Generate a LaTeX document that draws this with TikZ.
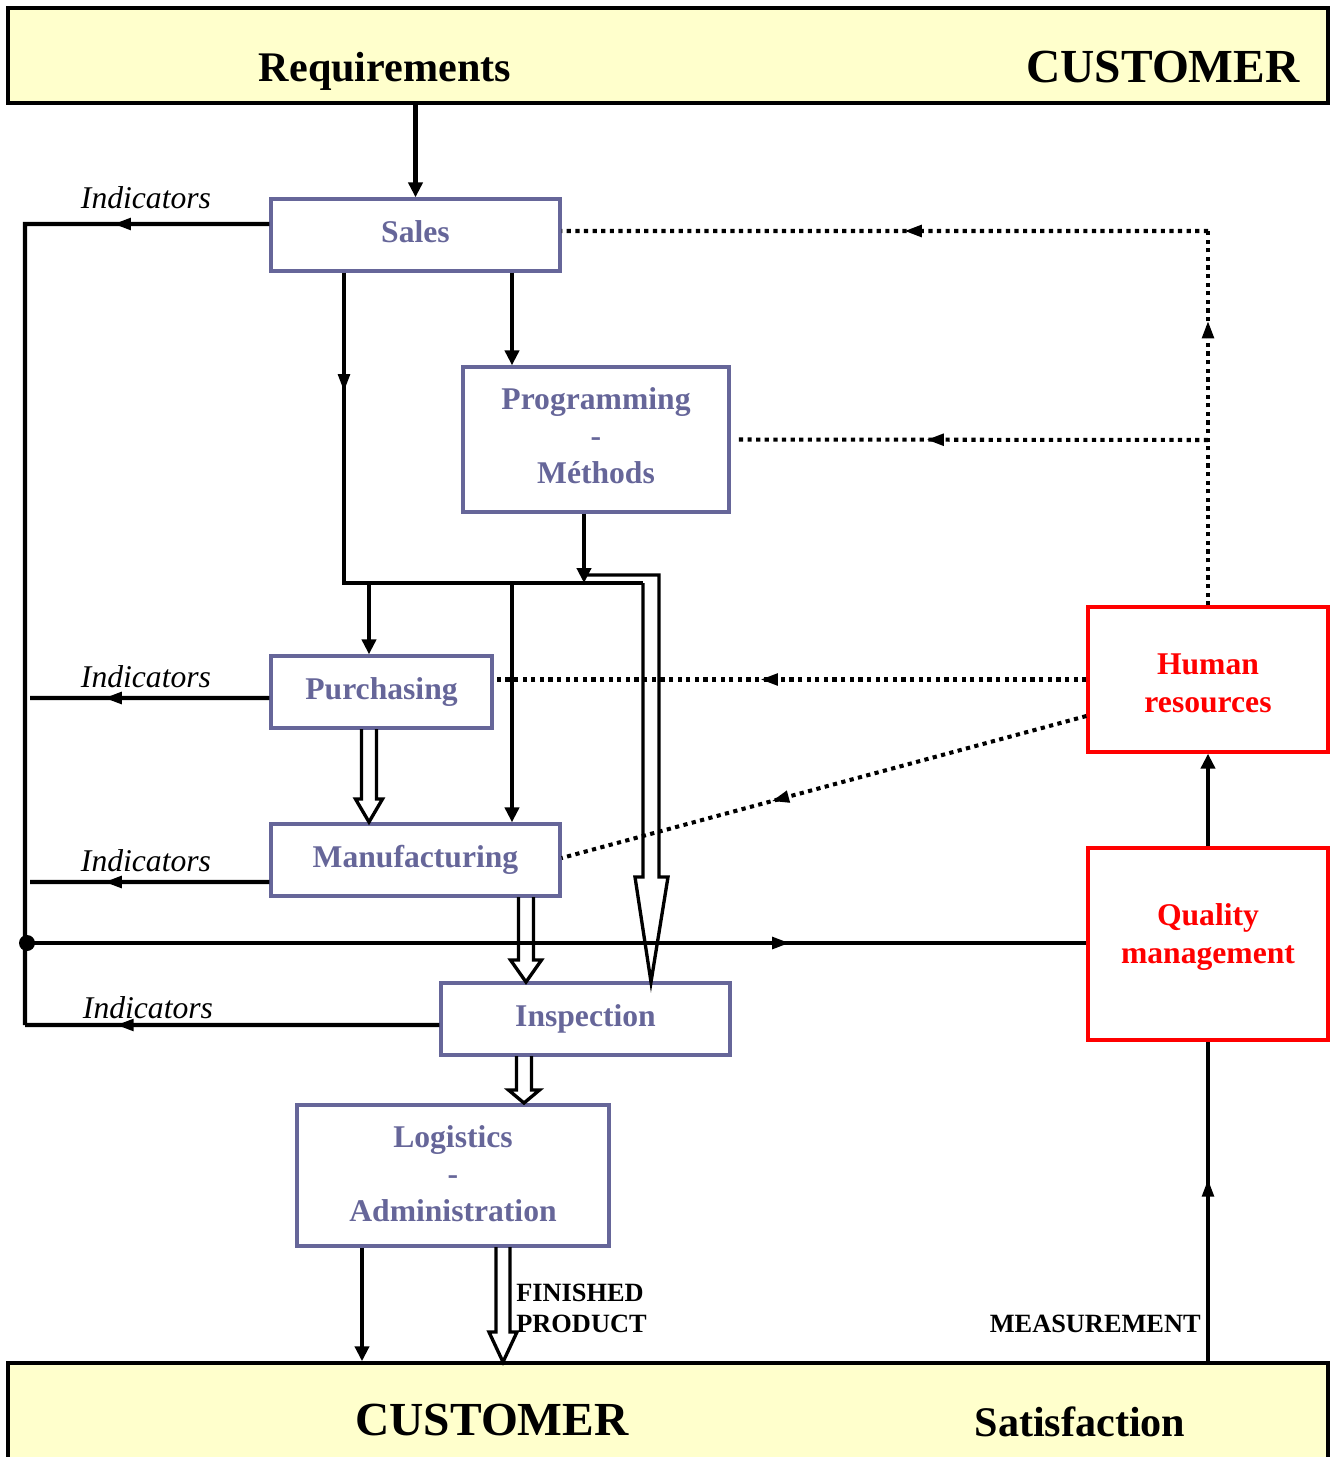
\documentclass[tikz,border=0pt]{standalone}
\usepackage{fontspec}
\setmainfont{Liberation Serif}
\usetikzlibrary{arrows.meta,decorations.markings,calc}
\definecolor{pv}{RGB}{102,102,153}
\definecolor{cream}{RGB}{255,255,204}
\definecolor{hrred}{RGB}{255,0,0}
\newcommand\hollowdown[6]{\draw[hollow] (#1-#2,#4) -- (#1-#2,#5) -- (#1-#3,#5) -- (#1,#6) -- (#1+#3,#5) -- (#1+#2,#5) -- (#1+#2,#4);}
\begin{document}
\begin{tikzpicture}[x=0.02cm,y=-0.02cm,
  box/.style={draw=pv, line width=1.9pt, text=pv, font=\fontsize{18}{21.2}\selectfont\bfseries, align=center, inner sep=0pt},
  redbox/.style={draw=hrred, line width=1.9pt, inner sep=0pt},
  redtext/.style={text=hrred, font=\fontsize{18}{21.5}\selectfont\bfseries, align=center, inner sep=0pt},
  band/.style={draw=black, line width=2pt, fill=cream, inner sep=0pt},
  conn/.style={line width=2.3pt},
  tip/.style={-{Triangle[length=8.5pt,width=8pt]}},
  midarrow/.style={postaction={decorate}, decoration={markings, mark=at position #1 with {\arrow{Triangle[length=10pt,width=6.5pt]}}}},
  dotline/.style={line width=2.3pt, dash pattern=on 2.4pt off 2.5pt},
  hollow/.style={line width=1.9pt, line join=miter},
  ind/.style={font=\fontsize{18}{21.5}\selectfont\itshape, inner sep=0pt},
  small/.style={font=\fontsize{15}{17.6}\selectfont\bfseries, align=left, inner sep=0pt}
]
\useasboundingbox (0,0) rectangle (1339,1457);

% bands
\node[band, minimum width=26.4cm, minimum height=1.9cm] (top) at (668,55.5) {};
\node[font=\fontsize{24}{28}\selectfont\bfseries] (req) at (385,71) {Requirements};
\node[font=\fontsize{27}{32}\selectfont\bfseries] (cust1) at (1163,67) {CUSTOMER};
\node[band, minimum width=26.4cm, minimum height=1.96cm] (bot) at (668,1412) {};
\node[font=\fontsize{27}{32}\selectfont\bfseries] (cust2) at (492,1420) {CUSTOMER};
\node[font=\fontsize{24}{28}\selectfont\bfseries] (satis) at (1080,1422) {Satisfaction};

% boxes
\node[box, minimum width=5.78cm, minimum height=1.44cm, text depth=3.4pt] (sales) at (415.5,235) {Sales};
\node[box, minimum width=5.32cm, minimum height=2.9cm, text depth=4.5pt] (prog) at (596,439.5) {Programming\\-\\Méthods};
\node[box, minimum width=4.42cm, minimum height=1.44cm] (purch) at (381.5,692) {Purchasing};
\node[box, minimum width=5.78cm, minimum height=1.44cm] (manuf) at (415.5,860) {Manufacturing};
\node[box, minimum width=5.78cm, minimum height=1.44cm] (insp) at (585.5,1019) {Inspection};
\node[box, minimum width=6.24cm, minimum height=2.82cm, text depth=2.3pt] (logi) at (453,1175.5) {Logistics\\-\\Administration};
\node[redbox, minimum width=4.8cm, minimum height=2.9cm] (hr) at (1208,679.5) {};
\node[redtext] (hrt) at (1208,683) {Human\\resources};
\node[redbox, minimum width=4.8cm, minimum height=3.84cm] (qm) at (1208,944) {};
\node[redtext] (qmt) at (1208,937) {Quality\\management};

% labels
\node[ind] (i1) at (146,198) {Indicators};
\node[ind] (i2) at (146,677) {Indicators};
\node[ind] (i3) at (146,861) {Indicators};
\node[ind] (i4) at (148,1008) {Indicators};
\node[small, anchor=west] (fp) at (516,1308) {FINISHED\\PRODUCT};
\node[small, anchor=east] (meas) at (1201,1324) {MEASUREMENT};

% coordinates
\coordinate (lt) at (25,224);
\coordinate (lb) at (25,1025);
\coordinate (dot) at (27,943);
\coordinate (pl) at (30,698);
\coordinate (ml) at (30,882);
\coordinate (j1) at (344,583);
\coordinate (j2) at (643,583);
\coordinate (pa) at (369,583);
\coordinate (ma) at (512,583);
\coordinate (pj) at (584,583);
\coordinate (lx) at (362,1246);
\coordinate (c1) at (1208,231);
\coordinate (c2) at (1208,440);

% top arrow
\draw[conn,tip] (top.south -| sales.north) -- (sales.north);

% indicator lines
\draw[conn, midarrow=3.12cm] ([yshift=0.22cm]sales.west) -- (lt) -- (lb);
\draw[conn, midarrow=0.69] ([yshift=-0.12cm]purch.west) -- (pl);
\draw[conn, midarrow=0.69] ([yshift=-0.44cm]manuf.west) -- (ml);
\draw[conn, midarrow=0.78] ([yshift=-0.12cm]insp.west) -- (lb);
\draw[conn, midarrow=0.72] (dot) -- (qm.west |- dot);
\fill (dot) circle (0.16cm);

% internal flow
\draw[conn, midarrow=2.38cm] (j1 |- sales.south) -- (j1) -- (j2);
\draw[conn,tip] (sales.south -| ma) -- (prog.north -| ma);
\draw[conn,tip] (prog.south -| pj) -- (pj);
\draw[conn,tip] (pa) -- (pa |- purch.north);
\draw[conn,tip] (ma) -- (ma |- manuf.north);

% hollow pipe from programming to inspection
\draw[hollow] (586,575) -- (659,575) -- (659,877) -- (668,877) -- (651,982) -- (635,877) -- (643,877) -- (643,583);

% hollow arrows
\hollowdown{369}{7.5}{13.5}{729}{799}{822}
\hollowdown{526}{7.5}{15.5}{897}{960}{982}
\hollowdown{524}{7.5}{15.5}{1056}{1090}{1103}
\hollowdown{503}{7}{14}{1247}{1332}{1362}

% logistics to customer
\draw[conn,tip] (logi.south -| lx) -- (bot.north -| lx);

% right side
\draw[conn,tip] (qm.north) -- (hr.south);
\draw[conn, midarrow=0.57] (bot.north -| qm.south) -- (qm.south);

% dotted HR lines
\draw[dotline, midarrow=0.76] (hr.north) -- (c1);
\draw[dotline, midarrow=0.47] (c1) -- ([yshift=0.08cm]sales.east);
\draw[dotline, midarrow=0.6] (c2) -- ([xshift=0.16cm]prog.east);
\draw[dotline, midarrow=0.55] (hr.west) -- (hr.west -| purch.east);
\draw[dotline, midarrow=0.6] ([yshift=-0.73cm]hr.west) -- ([yshift=0.04cm]manuf.east);
\end{tikzpicture}
\end{document}
